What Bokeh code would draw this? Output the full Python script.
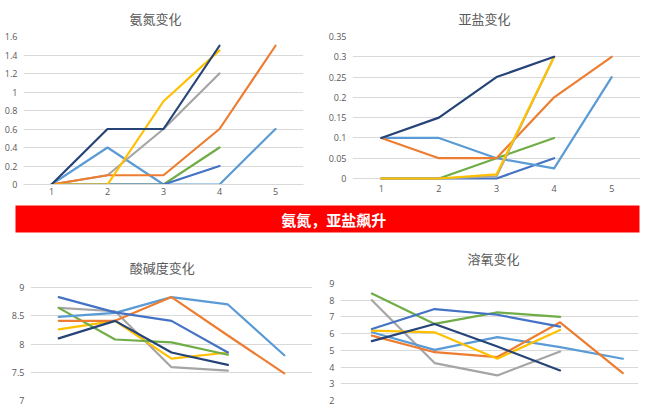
from bokeh.plotting import figure
from bokeh.layouts import column, row
from bokeh.models import Range1d, FixedTicker, Label
from bokeh.embed import file_html
from bokeh.resources import INLINE

# ---------------- data ----------------
days = [1, 2, 3, 4, 5]
day_labels = ["1", "2", "3", "4", "5"]

series_colors = {
    "lightblue": "#5B9BD5",
    "orange": "#ED7D31",
    "gray": "#A5A5A5",
    "yellow": "#FFC000",
    "blue": "#4472C4",
    "green": "#70AD47",
    "navy": "#264478",
}

# 氨氮 (ammonia)
nh3_lightblue = [0, 0.4, 0, 0, 0.6]
nh3_orange = [0, 0.1, 0.1, 0.6, 1.5]
nh3_gray = [0, 0.1, 0.6, 1.2]
nh3_green = [0, 0, 0, 0.4]
nh3_blue = [0, 0, 0, 0.2]
nh3_yellow = [0, 0, 0.9, 1.45]
nh3_navy = [0, 0.6, 0.6, 1.5]
nh3_ticks = [0, 0.2, 0.4, 0.6, 0.8, 1.0, 1.2, 1.4, 1.6]
nh3_tick_labels = ["0", "0.2", "0.4", "0.6", "0.8", "1", "1.2", "1.4", "1.6"]

# 亚盐 (nitrite)
no2_lightblue = [0.1, 0.1, 0.05, 0.025, 0.25]
no2_orange = [0.1, 0.05, 0.05, 0.2, 0.3]
no2_gray = [0, 0, 0.005, 0.3]
no2_green = [0, 0, 0.05, 0.1]
no2_blue = [0, 0, 0, 0.05]
no2_yellow = [0, 0, 0.01, 0.3]
no2_navy = [0.1, 0.15, 0.25, 0.3]
no2_ticks = [0, 0.05, 0.1, 0.15, 0.2, 0.25, 0.3, 0.35]
no2_tick_labels = ["0", "0.05", "0.1", "0.15", "0.2", "0.25", "0.3", "0.35"]

# 酸碱度 (pH)
ph_lightblue = [8.48, 8.55, 8.83, 8.70, 7.80]
ph_orange = [8.41, 8.41, 8.83, 8.15, 7.48]
ph_gray = [8.64, 8.58, 7.59, 7.53]
ph_yellow = [8.26, 8.41, 7.74, 7.85]
ph_green = [8.64, 8.08, 8.03, 7.81]
ph_blue = [8.83, 8.56, 8.41, 7.85]
ph_navy = [8.10, 8.41, 7.85, 7.63]
ph_ticks = [7, 7.5, 8, 8.5, 9]
ph_tick_labels = ["7", "7.5", "8", "8.5", "9"]

# 溶氧 (dissolved oxygen)
do_lightblue = [6.08, 5.03, 5.79, 5.19, 4.5]
do_orange = [5.88, 4.89, 4.6, 6.68, 3.64]
do_gray = [8.0, 4.24, 3.5, 4.93]
do_yellow = [6.18, 6.08, 4.5, 6.22]
do_green = [8.4, 6.58, 7.27, 7.0]
do_blue = [6.28, 7.47, 7.13, 6.42]
do_navy = [5.55, 6.58, 5.23, 3.8]
do_ticks = [2, 3, 4, 5, 6, 7, 8, 9]
do_tick_labels = ["2", "3", "4", "5", "6", "7", "8", "9"]

banner_text = "氨氮，亚盐飙升"
titles = ["氨氮变化", "亚盐变化", "酸碱度变化", "溶氧变化"]

FONT = "Noto Sans CJK SC"
TXT = "#595959"
GRID = "#D9D9D9"


def padded(lo, hi, frame_px, pad_bottom_px=0, pad_top_px=0):
    # extend a value range by a number of pixels of empty space
    per_px = (hi - lo) / (frame_px - pad_bottom_px - pad_top_px)
    return (lo - pad_bottom_px * per_px, hi + pad_top_px * per_px)


def make_fig(w, h, xr, yr, borders, ticks, tick_labels, show_x):
    p = figure(width=w, height=h, x_range=Range1d(*xr), y_range=Range1d(*yr),
               output_backend="svg", toolbar_location=None)
    p.min_border_left, p.min_border_right, p.min_border_top, p.min_border_bottom = borders
    p.outline_line_color = None
    p.background_fill_color = "white"
    p.border_fill_color = "white"
    p.xgrid.visible = False
    p.ygrid.grid_line_color = GRID
    p.ygrid.grid_line_width = 1
    for ax in (p.xaxis[0], p.yaxis[0]):
        ax.major_tick_line_color = None
        ax.minor_tick_line_color = None
        ax.major_tick_out = 0
        ax.major_tick_in = 0
        ax.minor_tick_out = 0
        ax.major_label_text_font_size = "9px"
        ax.major_label_text_color = TXT
        ax.major_label_text_font = "Open Sans"
    p.yaxis.ticker = FixedTicker(ticks=ticks)
    p.yaxis.major_label_overrides = {t: l for t, l in zip(ticks, tick_labels)}
    p.yaxis.axis_line_color = None
    p.yaxis.major_label_standoff = 6
    p.xaxis.ticker = FixedTicker(ticks=days)
    p.xaxis.major_label_overrides = {d: l for d, l in zip(days, day_labels)}
    p.xaxis.axis_line_color = GRID
    p.xaxis.major_label_standoff = 3
    if not show_x:
        p.xaxis.visible = False
    return p


def title_fig(text, w, h, fx, fy):
    t = figure(width=w, height=h, x_range=Range1d(0, 1), y_range=Range1d(0, 1),
               output_backend="svg", toolbar_location=None)
    t.axis.visible = False
    t.grid.visible = False
    t.outline_line_color = None
    t.min_border = 0
    t.background_fill_color = "white"
    t.border_fill_color = "white"
    t.add_layout(Label(x=fx, y=fy, text=text, text_align="center", text_baseline="middle",
                       text_font=FONT, text_font_size="13px", text_color=TXT))
    return t


def add_lines(p, series):
    for key, vals in series:
        p.line(days[:len(vals)], vals, line_color=series_colors[key],
               line_width=2.2, line_join="round", line_cap="round")


t1 = title_fig(titles[0], 325, 30, 0.477, 0.4)
t2 = title_fig(titles[1], 325, 30, 0.489, 0.4)

p1 = make_fig(325, 170, (0.5, 5.5), (0, 1.6), (23, 22, 6, 16),
              nh3_ticks, nh3_tick_labels, True)
add_lines(p1, [("lightblue", nh3_lightblue), ("gray", nh3_gray), ("green", nh3_green),
               ("blue", nh3_blue), ("orange", nh3_orange), ("yellow", nh3_yellow),
               ("navy", nh3_navy)])

p2 = make_fig(325, 170, (0.5, 5.5), padded(0, 0.35, 148, pad_bottom_px=6), (22, 10, 6, 16),
              no2_ticks, no2_tick_labels, True)
p2.xaxis.axis_line_color = None
p2.xaxis.major_label_standoff = 0
add_lines(p2, [("green", no2_green), ("blue", no2_blue), ("lightblue", no2_lightblue),
               ("orange", no2_orange), ("gray", no2_gray), ("yellow", no2_yellow),
               ("navy", no2_navy)])

banner = figure(width=650, height=38, x_range=Range1d(0, 1), y_range=Range1d(0, 1),
                output_backend="svg", toolbar_location=None)
banner.axis.visible = False
banner.grid.visible = False
banner.outline_line_color = None
banner.min_border_left, banner.min_border_right = 15, 11
banner.min_border_top, banner.min_border_bottom = 5, 6
banner.background_fill_color = "#FF0000"
banner.border_fill_color = "white"
banner.add_layout(Label(x=0.51, y=0.5, text=banner_text, text_align="center",
                        text_baseline="middle", text_color="white",
                        text_font=FONT, text_font_size="15px", text_font_style="bold"))

t3 = title_fig(titles[2], 325, 40, 0.498, 0.275)
t4 = title_fig(titles[3], 325, 40, 0.517, 0.5)

p3 = make_fig(325, 129, (0.5, 5.5), padded(7, 9, 117, pad_top_px=4), (30, 13, 5, 7),
              ph_ticks, ph_tick_labels, False)
add_lines(p3, [("gray", ph_gray), ("yellow", ph_yellow), ("green", ph_green),
               ("lightblue", ph_lightblue), ("orange", ph_orange), ("blue", ph_blue),
               ("navy", ph_navy)])

p4 = make_fig(325, 129, (0.5, 5.25), (2, 9), (15, 12, 5, 7),
              do_ticks, do_tick_labels, False)
add_lines(p4, [("gray", do_gray), ("lightblue", do_lightblue), ("orange", do_orange),
               ("yellow", do_yellow), ("green", do_green), ("blue", do_blue),
               ("navy", do_navy)])

layout = column(row(t1, t2), row(p1, p2), banner, row(t3, t4), row(p3, p4))

open("out.html", "w").write(file_html(layout, INLINE))
